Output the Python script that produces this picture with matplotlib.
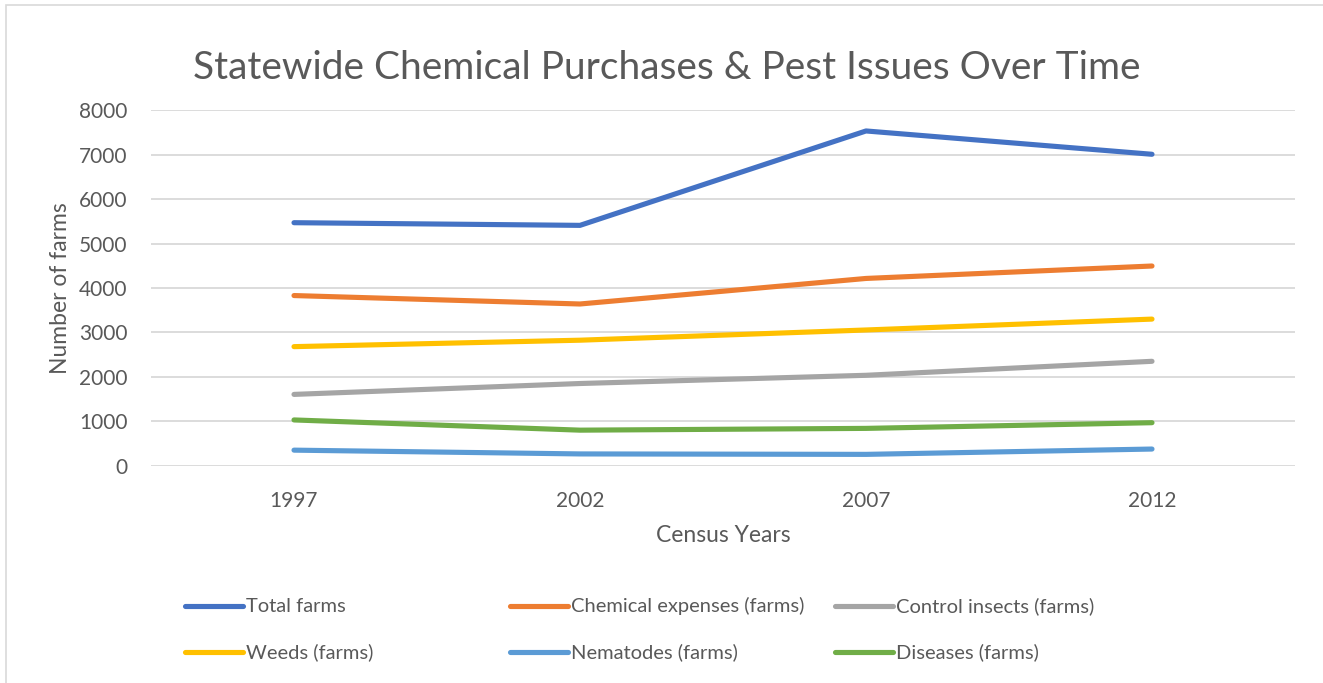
import matplotlib
matplotlib.use("Agg")
import matplotlib.pyplot as plt
from matplotlib.lines import Line2D
from matplotlib.patches import Rectangle

years = ["1997", "2002", "2007", "2012"]
total_farms = [5470, 5410, 7535, 7010]
chemical_expenses = [3830, 3640, 4215, 4495]
control_insects = [1605, 1850, 2035, 2350]
weeds = [2680, 2825, 3055, 3300]
nematodes = [350, 265, 255, 375]
diseases = [1030, 800, 840, 968]

series = [
    ("Total farms", total_farms, "#4472C4"),
    ("Chemical expenses (farms)", chemical_expenses, "#ED7D31"),
    ("Control insects (farms)", control_insects, "#A5A5A5"),
    ("Weeds (farms)", weeds, "#FFC000"),
    ("Nematodes (farms)", nematodes, "#5B9BD5"),
    ("Diseases (farms)", diseases, "#70AD47"),
]

plt.rcParams["font.family"] = ["Lato", "DejaVu Sans"]
text_color = "#595959"

W, H = 1323, 683
fig = plt.figure(figsize=(W / 100, H / 100), dpi=100)
fig.patch.set_facecolor("white")
# chart frame (only its top and left edges fall inside the canvas)
fig.add_artist(Rectangle((6 / W, -0.05), 1.1, 1.05 - 4.5 / H,
                         transform=fig.transFigure, fill=False,
                         edgecolor="#D9D9D9", linewidth=1.2))

ax = fig.add_axes([151 / W, 1 - 465.7 / H, (1295 - 151) / W, (465.7 - 110.3) / H])
x = list(range(len(years)))
lines = []
for name, vals, col in series:
    ln, = ax.plot(x, vals, color=col, linewidth=3.7, solid_capstyle="round",
                  solid_joinstyle="round", label=name, zorder=3)
    lines.append(ln)

ax.set_xlim(-0.5, len(years) - 0.5)
ax.set_ylim(0, 8000)
ax.set_yticks(range(0, 8001, 1000))
ax.set_xticks(x)
ax.set_xticklabels(years)
ax.grid(axis="y", color="#D9D9D9", linewidth=1.3, zorder=0)
ax.set_axisbelow(True)
for s in ax.spines.values():
    s.set_visible(False)
ax.tick_params(axis="both", length=0, labelsize=15, colors=text_color)
ax.tick_params(axis="y", pad=17)
ax.tick_params(axis="x", pad=18)

ax.set_xlabel("Census Years", fontsize=16.5, color=text_color, labelpad=10)
ax.set_ylabel("Number of farms", fontsize=16.5, color=text_color, labelpad=6)

fig.text(0.5 * (193 + 1140) / W, 1 - 68 / H,
         "Statewide Chemical Purchases & Pest Issues Over Time",
         ha="center", va="center", fontsize=28, color=text_color)

# legend laid out in a fixed 3-column grid below the plot
col_x = [185, 510, 835]
row_y = [606, 652]
for i, ln in enumerate(lines):
    cx = col_x[i % 3]
    cy = row_y[i // 3]
    fig.add_artist(Line2D([cx / W, (cx + 58) / W], [1 - cy / H, 1 - cy / H],
                          transform=fig.transFigure, color=ln.get_color(),
                          linewidth=3.7, solid_capstyle="round"))
    fig.text((cx + 61) / W, 1 - cy / H, ln.get_label(), ha="left",
             va="center", fontsize=14.5, color=text_color)

fig.savefig("out.png", dpi=100, facecolor="white")
